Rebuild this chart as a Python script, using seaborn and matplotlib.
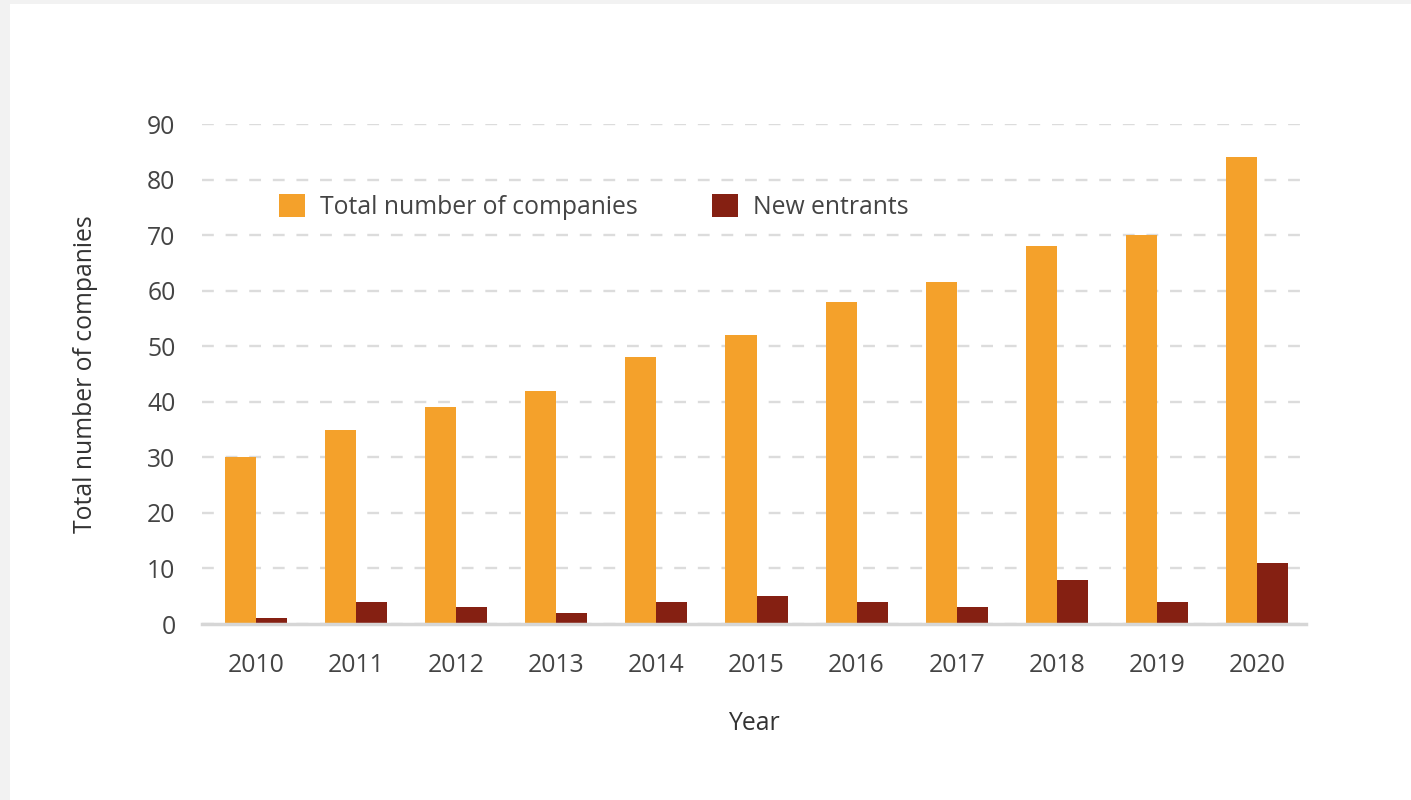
import matplotlib
matplotlib.use("Agg")
import matplotlib.pyplot as plt
import seaborn as sns
import pandas as pd
from matplotlib.patches import Rectangle

years = ["2010", "2011", "2012", "2013", "2014", "2015", "2016", "2017", "2018", "2019", "2020"]
total_companies = [30, 35, 39, 42, 48, 52, 58, 61.5, 68, 70, 84]
new_entrants = [1, 4, 3, 2, 4, 5, 4, 3, 8, 4, 11]
series_names = ["Total number of companies", "New entrants"]
y_ticks = [0, 10, 20, 30, 40, 50, 60, 70, 80, 90]

df = pd.DataFrame({
    "Year": years * 2,
    "Value": total_companies + new_entrants,
    "Series": [series_names[0]] * len(years) + [series_names[1]] * len(years),
})

sns.set_theme(style="white")
plt.rcParams["font.family"] = ["Open Sans", "DejaVu Sans"]

fig = plt.figure(figsize=(14.11, 8.0), dpi=100)
fig.patch.set_facecolor("#f2f2f2")
fig.patches.append(Rectangle((10 / 1411, 0), 1.0, 796 / 800, transform=fig.transFigure,
                             facecolor="white", edgecolor="none", zorder=-10))

ax = fig.add_axes([202 / 1411, 176 / 800, 1104 / 1411, 500 / 800])
ax.set_zorder(5)
ax.set_facecolor("none")

palette = {series_names[0]: "#f4a12b", series_names[1]: "#852012"}
sns.barplot(data=df, x="Year", y="Value", hue="Series", palette=palette,
            width=0.62, ax=ax, saturation=1, legend=True, zorder=3, linewidth=0)

ax.set_xlim(-0.54, 10.49)
ax.set_ylim(0, 90)
ax.set_yticks(y_ticks)
ax.yaxis.grid(True, linestyle=(0, (5, 5)), color="#dcdcdc", linewidth=1.7, zorder=0)
ax.xaxis.grid(False)
ax.set_axisbelow(True)
for s in ["top", "right", "left"]:
    ax.spines[s].set_visible(False)
ax.spines["bottom"].set_color("#d6d6d6")
ax.spines["bottom"].set_linewidth(2.5)
ax.spines["bottom"].set_zorder(4)

ax.tick_params(axis="both", length=0, labelsize=17.8, labelcolor="#444444")
ax.tick_params(axis="x", pad=21)
ax.tick_params(axis="y", pad=19)

ax.set_xlabel("Year", fontsize=17.8, color="#333333", labelpad=24, fontweight="medium")
ax.set_ylabel("Total number of companies", fontsize=17.8, color="#333333", labelpad=35,
              fontweight="medium")

handles, labels = ax.get_legend_handles_labels()
ax.legend(handles, labels, loc="center left", bbox_to_anchor=(0.07, 0.834), ncol=2,
          frameon=False, fontsize=17.8, handlelength=1.05, handleheight=1.05,
          handletextpad=0.6, columnspacing=3.0, borderpad=0, borderaxespad=0,
          labelcolor="#444444")

fig.savefig("out.png", dpi=100, facecolor=fig.get_facecolor())
